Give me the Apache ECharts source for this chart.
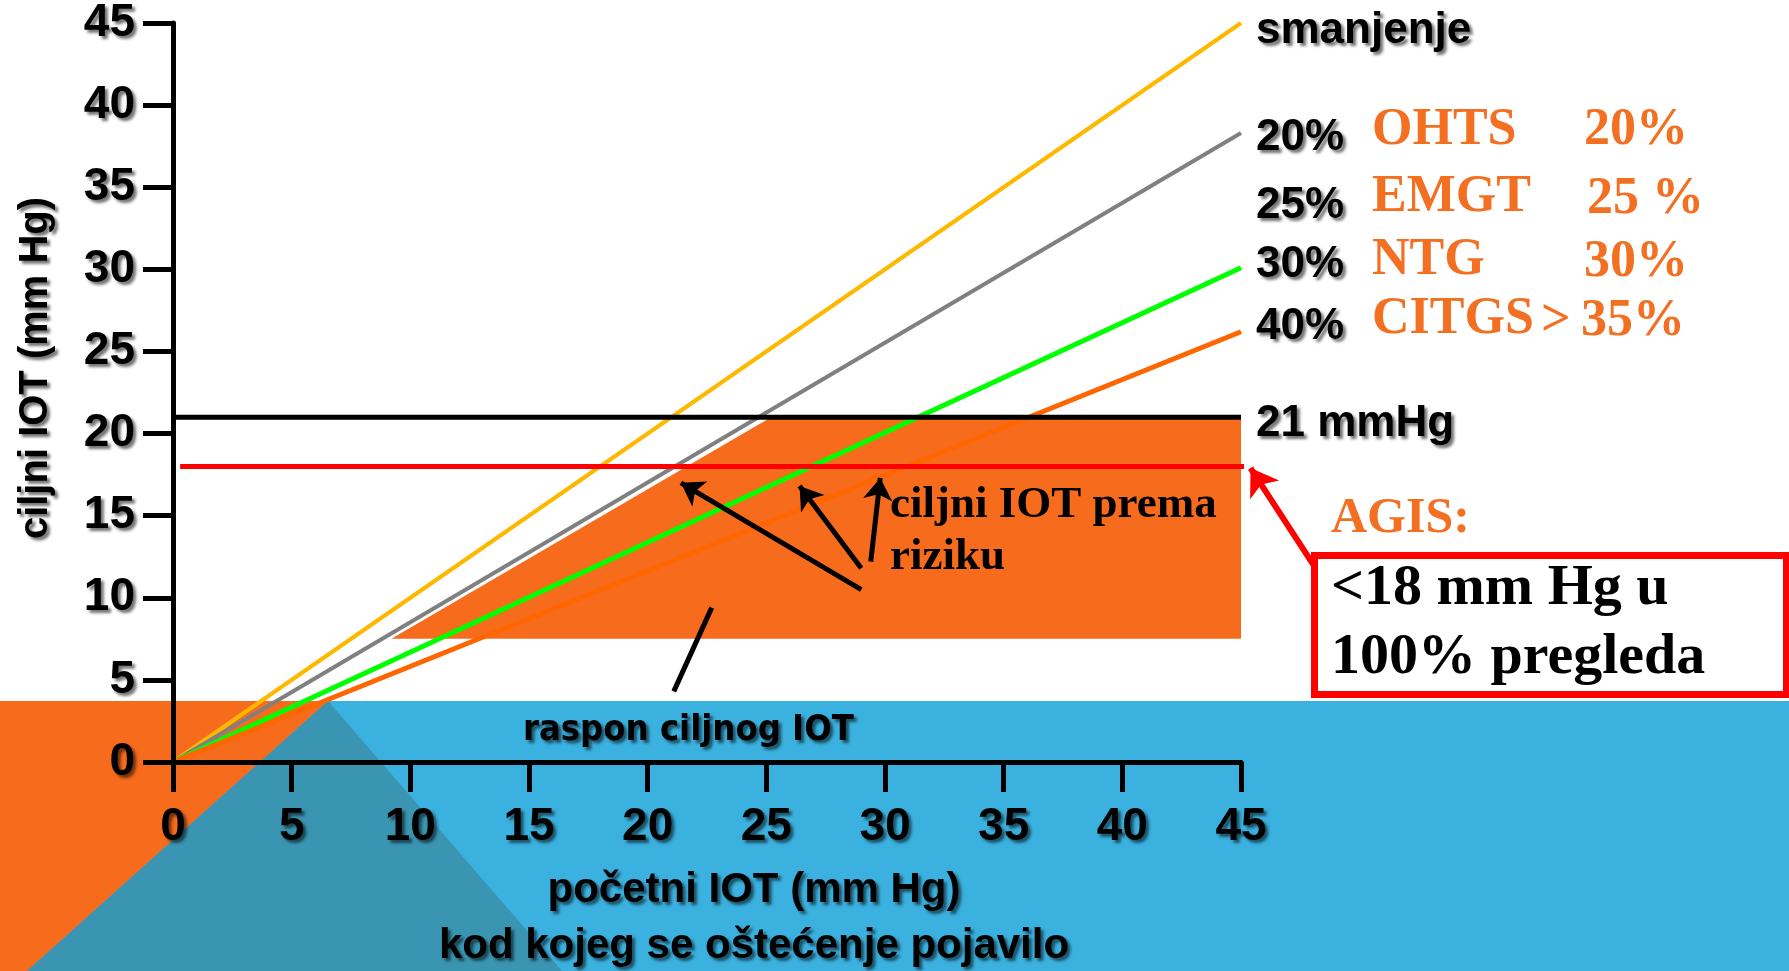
<!DOCTYPE html>
<html>
<head>
<meta charset="utf-8">
<script src="https://cdn.jsdelivr.net/npm/echarts@6/dist/echarts.min.js"></script>
<style>
html,body{margin:0;padding:0;background:#ffffff;}
#c{width:1789px;height:971px;}
</style>
</head>
<body>
<div id="c"></div>
<script>
// ---- data ----
const axisTicks = [0, 5, 10, 15, 20, 25, 30, 35, 40, 45];
const smanjenjeLine = [[0, 0], [45, 45]];      // yellow
const line20 = [[0, 0], [45, 38.3]];           // gray
const line30 = [[0, 0], [45, 30.1]];           // green
const line40 = [[0, 0], [45, 26.2]];           // orange
const limit21 = [[0, 21], [45, 21]];           // 21 mmHg
const agis18 = [[0.3, 18], [45.3, 18]];        // AGIS < 18
const targetRange = [[9.2, 7.5], [25.2, 21], [45, 21], [45, 7.5]];
const riskArrows = [
  [[29.0, 10.5], [21.4, 17.0]],
  [[29.0, 11.8], [26.4, 16.8]],
  [[29.4, 12.2], [29.8, 17.3]]
];
const rangePointer = [[22.7, 9.4], [21.1, 4.3]];
const agisArrow = [[48.1, 11.9], [45.4, 17.9]];
const reductionLabels = ['smanjenje', '20%', '25%', '30%', '40%'];
const studyNames = ['OHTS', 'EMGT', 'NTG', 'CITGS'];
const studyValues = ['20%', '25 %', '30%', '35%'];

// ---- styles ----
const SANS = '"Liberation Sans", Arial, sans-serif';
const NARROW = '"Liberation Sans Narrow", "DejaVu Sans Condensed", "Liberation Sans", sans-serif';
const SERIF = '"Liberation Serif", "Times New Roman", serif';
const ORANGE_TXT = '#F37022';
const SH = {textShadowColor: 'rgba(0,0,0,0.55)', textShadowBlur: 3, textShadowOffsetX: 3, textShadowOffsetY: 3};

function txt(text, x, y, font, fill, shadow, align) {
  const st = {
    text: text, font: font, fill: fill,
    align: align || 'left', textAlign: align || 'left',
    verticalAlign: 'middle', textVerticalAlign: 'middle'
  };
  if (shadow) {
    st.shadowColor = 'rgba(0,0,0,0.55)'; st.shadowBlur = 3; st.shadowOffsetX = 3; st.shadowOffsetY = 3;
    st.textShadowColor = 'rgba(0,0,0,0.55)'; st.textShadowBlur = 3; st.textShadowOffsetX = 3; st.textShadowOffsetY = 3;
  }
  return {type: 'text', x: x, y: y, z: 20, silent: true, style: st};
}

const chart = echarts.init(document.getElementById('c'), null, {renderer: 'canvas'});

const graphics = [
  // background band
  {type: 'rect', z: -10, silent: true, shape: {x: 0, y: 701, width: 1789, height: 270}, style: {fill: '#3BB1DF'}},
  {type: 'polygon', z: -9, silent: true, shape: {points: [[0, 701], [328, 701], [27, 971], [0, 971]]}, style: {fill: '#F76B1C'}},
  {type: 'polygon', z: -9, silent: true, shape: {points: [[328, 701], [27, 971], [562, 971]]}, style: {fill: '#3A95B3'}},
  // AGIS box
  {type: 'rect', z: 8, silent: true, shape: {x: 1314.5, y: 555.5, width: 472, height: 139}, style: {fill: '#ffffff', stroke: '#FF0000', lineWidth: 7}},
  // labels near line ends
  txt(reductionLabels[0], 1256, 31, 'bold 44px ' + SANS, '#000', true),
  txt(reductionLabels[1], 1256, 138, 'bold 44px ' + SANS, '#000', true),
  txt(reductionLabels[2], 1256, 206, 'bold 44px ' + SANS, '#000', true),
  txt(reductionLabels[3], 1256, 265, 'bold 44px ' + SANS, '#000', true),
  txt(reductionLabels[4], 1256, 327, 'bold 44px ' + SANS, '#000', true),
  txt(studyNames[0], 1372, 131, 'bold 52px ' + SERIF, ORANGE_TXT, false),
  txt(studyNames[1], 1372, 198, 'bold 52px ' + SERIF, ORANGE_TXT, false),
  txt(studyNames[2], 1372, 261, 'bold 52px ' + SERIF, ORANGE_TXT, false),
  txt(studyNames[3], 1372, 320, 'bold 52px ' + SERIF, ORANGE_TXT, false),
  txt('>', 1541, 322, 'bold 52px ' + SERIF, ORANGE_TXT, false),
  txt(studyValues[0], 1584, 131, 'bold 52px ' + SERIF, ORANGE_TXT, false),
  txt(studyValues[1], 1587, 200, 'bold 52px ' + SERIF, ORANGE_TXT, false),
  txt(studyValues[2], 1584, 263, 'bold 52px ' + SERIF, ORANGE_TXT, false),
  txt(studyValues[3], 1581, 322, 'bold 52px ' + SERIF, ORANGE_TXT, false),
  txt('21 mmHg', 1256, 424, 'bold 44px ' + SANS, '#000', true),
  txt('AGIS:', 1331, 519, 'bold 50px ' + SERIF, ORANGE_TXT, false),
  txt('<18 mm Hg u', 1331, 589, 'bold 58px ' + SERIF, '#000', false),
  txt('100% pregleda', 1331, 658, 'bold 58px ' + SERIF, '#000', false),
  txt('ciljni IOT prema', 890, 505, 'bold 45px ' + SERIF, '#000', false),
  txt('riziku', 890, 557, 'bold 45px ' + SERIF, '#000', false),
  txt('raspon ciljnog IOT', 523, 731, 'bold 36px ' + NARROW, '#000', true)
];

const option = {
  animation: false,
  backgroundColor: '#ffffff',
  grid: {left: 173, right: 548, top: 23, bottom: 209, containLabel: false, outerBoundsMode: 'none'},
  xAxis: {
    type: 'value', min: 0, max: 45, interval: 5, z: 4,
    axisLine: {show: true, onZero: false, lineStyle: {color: '#000', width: 5}},
    axisTick: {show: true, length: 30, lineStyle: {color: '#000', width: 5}},
    splitLine: {show: false},
    axisLabel: Object.assign({margin: 42, color: '#000', fontSize: 46, fontWeight: 'bold', fontFamily: SANS,
      formatter: v => axisTicks.indexOf(v) >= 0 ? String(v) : ''}, SH),
    name: 'početni IOT (mm Hg)\nkod kojeg se oštećenje pojavilo',
    nameLocation: 'middle', nameGap: 100,
    nameTextStyle: Object.assign({color: '#000', fontSize: 42, fontWeight: 'bold', fontFamily: SANS,
      lineHeight: 56, padding: [0, 0, 0, 94]}, SH)
  },
  yAxis: {
    type: 'value', min: 0, max: 45, interval: 5, z: 4,
    axisLine: {show: true, onZero: false, lineStyle: {color: '#000', width: 5}},
    axisTick: {show: true, length: 30, lineStyle: {color: '#000', width: 5}},
    splitLine: {show: false},
    axisLabel: Object.assign({margin: 38, color: '#000', fontSize: 46, fontWeight: 'bold', fontFamily: SANS}, SH),
    name: 'ciljni IOT (mm Hg)',
    nameLocation: 'middle', nameRotate: 90, nameGap: 117,
    nameTextStyle: Object.assign({color: '#000', fontSize: 40, fontWeight: 'bold', fontFamily: SANS,
      padding: [0, 0, 0, 49]}, SH)
  },
  graphic: {elements: graphics},
  series: [
    {
      type: 'custom', name: 'raspon ciljnog IOT', coordinateSystem: 'cartesian2d', z: 1, silent: true,
      data: targetRange, encode: {x: 0, y: 1},
      renderItem: function (params, api) {
        if (params.dataIndex !== 0) return null;
        const pts = targetRange.map(p => api.coord(p));
        return {type: 'polygon', shape: {points: pts}, style: {fill: '#F76B1C'}};
      }
    },
    {type: 'line', name: 'smanjenje', data: smanjenjeLine, symbol: 'none', z: 3, lineStyle: {color: '#FFB800', width: 4}},
    {type: 'line', name: '20%', data: line20, symbol: 'none', z: 3, lineStyle: {color: '#808080', width: 4}},
    {type: 'line', name: '30%', data: line30, symbol: 'none', z: 3, lineStyle: {color: '#00FF00', width: 5}},
    {type: 'line', name: '40%', data: line40, symbol: 'none', z: 3, lineStyle: {color: '#FF6600', width: 5}},
    {type: 'line', name: '21 mmHg', data: limit21, symbol: 'none', z: 4, lineStyle: {color: '#000', width: 5}},
    {type: 'line', name: 'AGIS', data: agis18, symbol: 'none', z: 5, clip: false, lineStyle: {color: '#FF0000', width: 5}},
    {
      type: 'lines', coordinateSystem: 'cartesian2d', z: 6, clip: false, silent: true,
      symbol: ['none', 'arrow'], symbolSize: 22,
      lineStyle: {color: '#000', width: 5, opacity: 1, curveness: 0},
      data: riskArrows.map(c => ({coords: c}))
    },
    {
      type: 'lines', coordinateSystem: 'cartesian2d', z: 6, clip: false, silent: true,
      symbol: ['none', 'none'],
      lineStyle: {color: '#000', width: 5, opacity: 1, curveness: 0},
      data: [{coords: rangePointer}]
    },
    {
      type: 'lines', coordinateSystem: 'cartesian2d', z: 9, clip: false, silent: true,
      symbol: ['none', 'arrow'], symbolSize: 26,
      lineStyle: {color: '#FF0000', width: 6, opacity: 1, curveness: 0},
      data: [{coords: agisArrow}]
    }
  ]
};
chart.setOption(option);
</script>
</body>
</html>
